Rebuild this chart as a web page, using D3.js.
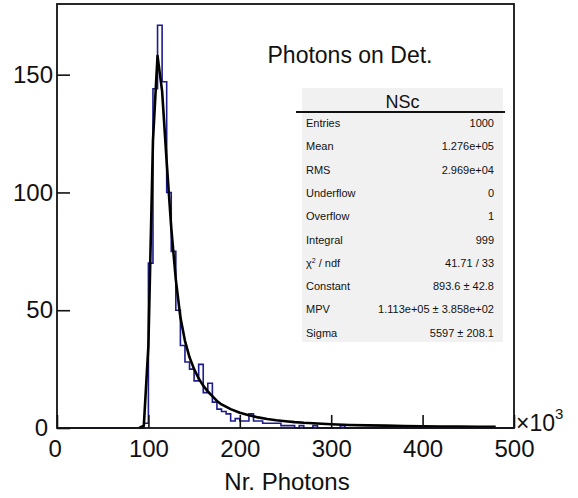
<!DOCTYPE html>
<html lang="en">
<head>
<meta charset="UTF-8">
<title>Photons on Det.</title>
<script src="https://cdn.jsdelivr.net/npm/d3@7"></script>
<style>
    body { margin: 0; background: #fff; }
    text { font-family: "Liberation Sans", Arial, sans-serif; fill: #111; }
</style>
</head>
<body>
<div id="chart"></div>
<script>
    // histogram: lower bin edge (x10^3 photons, 5k wide bins) and bin content
    const binLow = [95, 100, 105, 110, 115, 120, 125, 130, 135, 140, 145, 150, 155, 160, 165, 170, 175, 180, 185, 190,
                    195, 200, 205, 210, 215, 220, 225, 230, 235, 240, 245, 250, 255, 265, 280, 310];
    const binCount = [2, 70, 144, 171, 147, 100, 75, 50, 35, 28, 25, 20, 27, 15, 19, 11, 8, 7, 6, 3,
                      4, 3, 3, 6, 3, 3, 2, 2, 2, 2, 1, 1, 1, 1, 1, 1];

    // landau fit curve
    const fitX = [90, 95, 100, 105, 110, 115, 120, 125, 130, 135, 140, 145, 150, 155, 160, 165, 170, 175, 180, 190,
                  200, 210, 220, 230, 240, 250, 260, 270, 280, 300, 320, 340, 360, 380, 400, 420, 440, 460, 480];
    const fitY = [0, 1, 35, 122, 158, 143, 113, 85, 63, 47, 37, 30, 25, 21, 18, 15.5, 13.5, 11.5, 10, 8,
                  6.5, 5.4, 4.5, 3.8, 3.3, 2.9, 2.5, 2.2, 2, 1.6, 1.3, 1.1, 1, 0.85, 0.75, 0.65, 0.6, 0.55, 0.5];

    const xTicks = [0, 100, 200, 300, 400, 500];
    const yTicks = [0, 50, 100, 150];

    const statLabels = ["Entries", "Mean", "RMS", "Underflow", "Overflow", "Integral", "chi2", "Constant", "MPV", "Sigma"];
    const statValues = ["1000", "1.276e+05", "2.969e+04", "0", "1", "999", "41.71 / 33", "893.6 \u00b1 42.8",
                        "1.113e+05 \u00b1 3.858e+02", "5597 \u00b1 208.1"];

    const width = 578, height = 498;
    const frame = { left: 57, right: 514, top: 4, bottom: 428 };

    const svg = d3.select("#chart").append("svg")
        .attr("width", width)
        .attr("height", height);

    const x = d3.scaleLinear().domain([0, 500]).range([frame.left, frame.right]);
    const y = d3.scaleLinear().domain([0, 180]).range([frame.bottom, frame.top]);

    // full 100-bin histogram, empty bins are zero
    const counts = new Map(binLow.map((b, i) => [b, binCount[i]]));
    const bins = d3.range(0, 500, 5).map(lo => ({ x: lo, y: counts.get(lo) || 0 }));
    bins.push({ x: 500, y: bins[bins.length - 1].y });

    const histLine = d3.line()
        .x(d => x(d.x))
        .y(d => y(d.y))
        .curve(d3.curveStepAfter);

    svg.append("path")
        .datum(bins)
        .attr("d", histLine)
        .attr("fill", "none")
        .attr("stroke", "#1c1c8c")
        .attr("stroke-width", 1.6);

    // fit function
    const fitLine = d3.line()
        .x((d, i) => x(fitX[i]))
        .y(d => y(d));

    svg.append("path")
        .datum(fitY)
        .attr("d", fitLine)
        .attr("fill", "none")
        .attr("stroke", "#000")
        .attr("stroke-width", 2.6)
        .attr("stroke-linejoin", "round");

    // axes, ticks point into the frame
    const xAxis = svg.append("g")
        .attr("transform", `translate(0,${frame.bottom})`)
        .call(d3.axisBottom(x).tickValues(xTicks).tickSizeInner(-13).tickSizeOuter(0).tickPadding(12).tickFormat(d3.format("d")));

    const yAxis = svg.append("g")
        .attr("transform", `translate(${frame.left},0)`)
        .call(d3.axisLeft(y).tickValues(yTicks).tickSizeInner(-13).tickSizeOuter(0).tickPadding(4).tickFormat(d3.format("d")));

    [xAxis, yAxis].forEach(g => {
        g.select(".domain").remove();
        g.selectAll("line").attr("stroke", "#111").attr("stroke-width", 1.6);
        g.selectAll("text").attr("font-size", 24).attr("font-family", "Liberation Sans, Arial, sans-serif").attr("fill", "#111");
    });
    // the two zeros sit next to each other in the corner
    yAxis.selectAll(".tick").filter(d => d === 0).select("text").attr("dy", "0.3em").attr("dx", "-0.2em");
    xAxis.selectAll(".tick").filter(d => d === 0).select("text").attr("dx", "-0.1em");

    // frame
    svg.append("rect")
        .attr("x", frame.left)
        .attr("y", frame.top)
        .attr("width", frame.right - frame.left)
        .attr("height", frame.bottom - frame.top)
        .attr("fill", "none")
        .attr("stroke", "#111")
        .attr("stroke-width", 1.8);

    // axis exponent
    const expo = svg.append("text")
        .attr("x", frame.right + 2)
        .attr("y", frame.bottom + 3)
        .attr("font-size", 23);
    expo.append("tspan").text("\u00d710");
    expo.append("tspan").attr("dy", -12).attr("font-size", 15).text("3");

    svg.append("text")
        .attr("x", 287)
        .attr("y", 490)
        .attr("text-anchor", "middle")
        .attr("font-size", 24)
        .text("Nr. Photons");

    svg.append("text")
        .attr("x", 350)
        .attr("y", 63)
        .attr("text-anchor", "middle")
        .attr("font-size", 23)
        .text("Photons on Det.");

    // stats box
    const box = { x: 302, y: 88, w: 201, h: 254 };
    svg.append("rect")
        .attr("x", box.x)
        .attr("y", box.y)
        .attr("width", box.w)
        .attr("height", box.h)
        .attr("fill", "#f1f1f1");

    svg.append("text")
        .attr("x", box.x + box.w / 2)
        .attr("y", 108)
        .attr("text-anchor", "middle")
        .attr("font-size", 18)
        .text("NSc");

    svg.append("line")
        .attr("x1", 296).attr("x2", 505)
        .attr("y1", 112).attr("y2", 112)
        .attr("stroke", "#111")
        .attr("stroke-width", 2);

    const rows = svg.selectAll(".stat")
        .data(statLabels)
        .enter().append("g")
        .attr("class", "stat")
        .attr("transform", (d, i) => `translate(0,${127 + i * 23.3})`);

    rows.append("text")
        .attr("x", 306)
        .attr("font-size", 11)
        .each(function(d) {
            const t = d3.select(this);
            if (d === "chi2") {
                t.append("tspan").text("\u03c7");
                t.append("tspan").attr("dy", -4).attr("font-size", 7).text("2");
                t.append("tspan").attr("dy", 4).text(" / ndf");
            } else {
                t.text(d);
            }
        });

    rows.append("text")
        .attr("x", 494)
        .attr("text-anchor", "end")
        .attr("font-size", 11)
        .text((d, i) => statValues[i]);
</script>
</body>
</html>
